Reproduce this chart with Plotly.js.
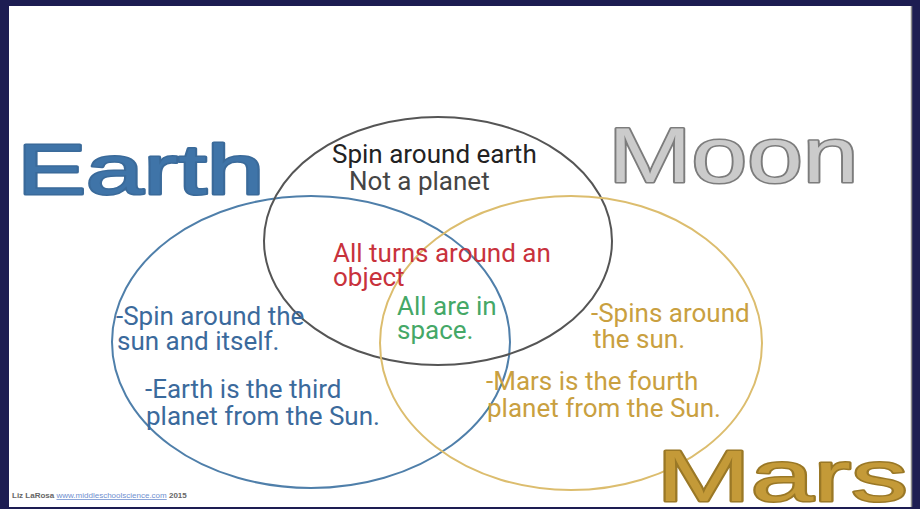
<!DOCTYPE html>
<html>
<head>
<meta charset="utf-8">
<script src="https://cdn.plot.ly/plotly-3.0.1.min.js"></script>
<style>
html,body{margin:0;padding:0;background:#1d1d52;overflow:hidden;}
#chart{width:920px;height:509px;}
</style>
</head>
<body>
<div id="chart"></div>
<script>
// ---- Venn sets (ellipses) ----
const setNames   = ['Earth', 'Moon', 'Mars'];
const setColors  = ['#4f7faa', '#555555', '#dcbd6e'];
const ellipseCx  = [311, 438, 571];
const ellipseCy  = [342, 241, 343];
const ellipseRx  = [199, 174, 191];
const ellipseRy  = [146, 124, 147];

// ---- Big set titles ----
const titleText     = ['Earth', 'Moon', 'Mars'];
const titleCenterX  = [140, 733, 782];
const titleBaseline = [194, 182, 501];
const titleSize     = [70, 77, 73];
const titleWidth    = [247, 250, 251];
const titleFill     = ['#3f74a8', '#cbcbcb', '#c49a38'];
const titleStroke   = ['#3a6a9a', '#7c7c7c', '#9a7826'];

// ---- Region text lines ----
const lineText = [
  'Spin around earth', 'Not a planet',
  'All turns around an', 'object',
  'All are in', 'space.',
  '-Spin around the', 'sun and itself.',
  '-Earth is the third', 'planet from the Sun.',
  '-Spins around', 'the sun.',
  '-Mars is the fourth', 'planet from the Sun.'
];
const lineLeft = [332, 349, 333, 333, 397, 397, 116, 117, 145, 146, 591, 593, 486, 487];
const lineBaseline = [163, 190, 262, 286, 315, 339, 325, 350, 398, 425, 322, 348, 390, 417];
const lineColor = [
  '#222222', '#454545',
  '#c8323c', '#c8323c',
  '#45a867', '#45a867',
  '#3b6a9c', '#3b6a9c', '#3b6a9c', '#3b6a9c',
  '#c9a040', '#c9a040', '#c9a040', '#c9a040'
];
const lineSize = 26;

// ---- Footer credit ----
const creditAuthor = 'Liz LaRosa';
const creditSite = 'www.middleschoolscience.com';
const creditYear = '2015';

const shapes = [];
// white slide
shapes.push({type:'rect', xref:'x', yref:'y', x0:9, x1:912, y0:6, y1:507,
  fillcolor:'#ffffff', line:{width:0}, layer:'below'});
shapes.push({type:'line', xref:'x', yref:'y', x0:911.5, x1:911.5, y0:6, y1:507,
  line:{color:'#8a8a8a', width:1.5}, layer:'below'});

for (let i = 0; i < setNames.length; i++) {
  shapes.push({
    type:'circle', xref:'x', yref:'y',
    x0: ellipseCx[i] - ellipseRx[i], x1: ellipseCx[i] + ellipseRx[i],
    y0: ellipseCy[i] - ellipseRy[i], y1: ellipseCy[i] + ellipseRy[i],
    line:{color: setColors[i], width: 2}, fillcolor:'rgba(0,0,0,0)', layer:'above'
  });
}

const annotations = [];
for (let i = 0; i < titleText.length; i++) {
  annotations.push({
    text: titleText[i], x: titleCenterX[i], y: titleBaseline[i] - 0.3465 * titleSize[i],
    xref:'x', yref:'y', xanchor:'center', yanchor:'middle', showarrow:false,
    font:{family:'Liberation Sans, Arial, sans-serif', size:titleSize[i], color:titleFill[i]}
  });
}
for (let i = 0; i < lineText.length; i++) {
  annotations.push({
    text: lineText[i], x: lineLeft[i] - 2, y: lineBaseline[i] - 0.342 * lineSize,
    xref:'x', yref:'y', xanchor:'left', yanchor:'middle', align:'left', showarrow:false,
    font:{family:'Roboto, sans-serif', size:lineSize, color:lineColor[i]}
  });
}
annotations.push({
  text: '<b>' + creditAuthor + '</b> <span style="color:#6f8fcf;text-decoration:underline">' + creditSite + '</span> <b>' + creditYear + '</b>',
  x: 10, y: 495, xref:'x', yref:'y', xanchor:'left', yanchor:'middle', showarrow:false,
  font:{family:'Liberation Sans, Arial, sans-serif', size:8, color:'#666666'}
});

const layout = {
  width: 920, height: 509,
  margin:{l:0, r:0, t:0, b:0},
  paper_bgcolor:'#1d1d52', plot_bgcolor:'#1d1d52',
  xaxis:{range:[0,920], visible:false, fixedrange:true},
  yaxis:{range:[509,0], visible:false, fixedrange:true},
  showlegend:false,
  shapes: shapes,
  annotations: annotations
};

Plotly.newPlot('chart', [], layout, {displayModeBar:false, staticPlot:true}).then(function(gd){
  const texts = gd.querySelectorAll('.annotation-text');
  texts.forEach(function(t){
    const idx = titleText.indexOf(t.textContent);
    if (idx >= 0) {
      t.setAttribute('textLength', titleWidth[idx]);
      t.setAttribute('lengthAdjust', 'spacingAndGlyphs');
      t.setAttribute('stroke', titleStroke[idx]);
      t.setAttribute('stroke-width', '3');
      t.setAttribute('paint-order', 'stroke');
      t.style.stroke = titleStroke[idx];
      t.style.strokeWidth = '3px';
      t.style.paintOrder = 'stroke';
      t.style.strokeLinejoin = 'round';
    }
  });
});
</script>
</body>
</html>
